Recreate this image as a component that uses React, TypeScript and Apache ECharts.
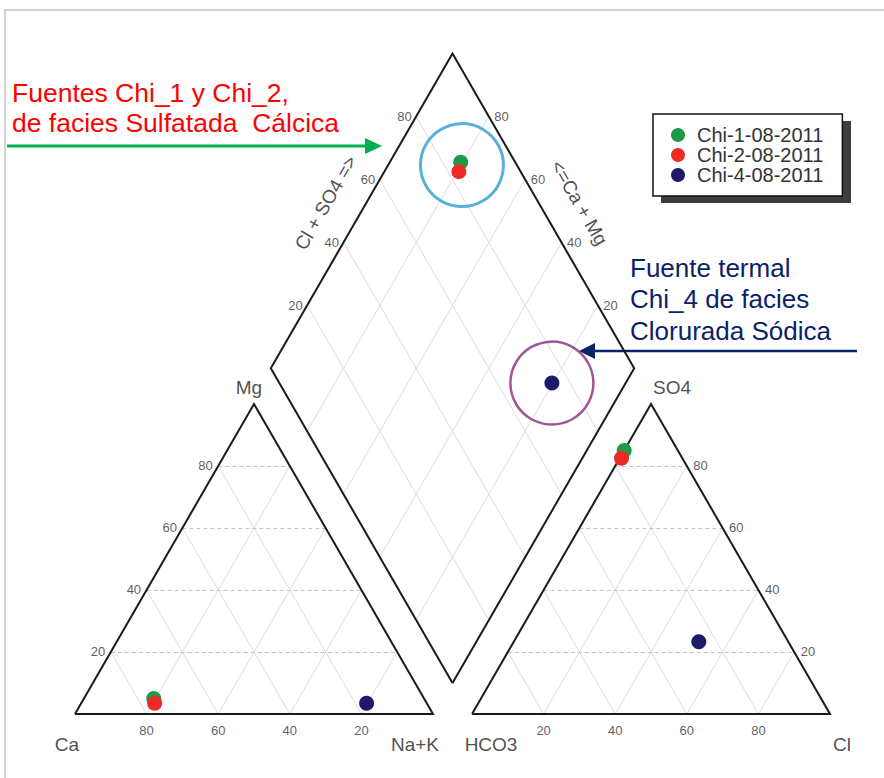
import React, { useEffect, useRef } from "react";
import * as echarts from "echarts";

// ---------- data (percent meq/L) ----------
const sampleNames = ["Chi-1-08-2011", "Chi-2-08-2011", "Chi-4-08-2011"];
const sampleColors = ["#1f9a4b", "#ec2b24", "#1d1a6b"];
const cationCa = [75.5, 76, 16.8];
const cationMg = [5, 3.5, 3.5];
const cationNaK = [19.5, 20.5, 79.7];
const anionHCO3 = [15, 17, 25];
const anionSO4 = [85, 82.5, 23.3];
const anionCl = [0, 0.5, 51.7];
const tickValues = [20, 40, 60, 80];

// ---------- geometry ----------
const H = Math.sqrt(3) / 2;
const GAP = 0.109;
const DW = 0.5075;
const DH = DW * Math.sqrt(3);
const B0 = 1 + GAP / 2;
const B1 = 0.0866;
const PX = 358;
const XMAX = 2.2;
const YMAX = 1.95;
const FONT = '"Liberation Sans", Arial, sans-serif';

function catXY(ca: number, mg: number, na: number): number[] {
  const s = ca + mg + na;
  return [(na + mg / 2) / s, (mg / s) * H];
}
function anXY(h: number, so4: number, cl: number): number[] {
  const s = h + so4 + cl;
  return [1 + GAP + (cl + so4 / 2) / s, (so4 / s) * H];
}
function diaXY(a: number, b: number): number[] {
  return [B0 + DW * (b - a), B1 + DH * (a + b)];
}

function seg(p: number[], q: number[]) {
  return { coords: [p, q] };
}

function buildOption() {
  const grid: any[] = [];
  const gridH: any[] = [];
  tickValues.forEach((v) => {
    const w = 100 - v;
    gridH.push(seg(catXY(w, v, 0), catXY(0, v, w)));
    grid.push(seg(catXY(v, w, 0), catXY(v, 0, w)));
    grid.push(seg(catXY(w, 0, v), catXY(0, w, v)));
    gridH.push(seg(anXY(w, v, 0), anXY(0, v, w)));
    grid.push(seg(anXY(v, w, 0), anXY(v, 0, w)));
    grid.push(seg(anXY(w, 0, v), anXY(0, w, v)));
    grid.push(seg(diaXY(v / 100, 0), diaXY(v / 100, 1)));
    grid.push(seg(diaXY(0, v / 100), diaXY(1, v / 100)));
  });

  const outlines = [
    { coords: [catXY(100, 0, 0), catXY(0, 0, 100), catXY(0, 100, 0), catXY(100, 0, 0)] },
    { coords: [anXY(100, 0, 0), anXY(0, 0, 100), anXY(0, 100, 0), anXY(100, 0, 0)] },
    { coords: [diaXY(0, 0), diaXY(1, 0), diaXY(1, 1), diaXY(0, 1), diaXY(0, 0)] },
  ];

  const tickSeries = (name: string, pts: any[], position: string, distance: number) => ({
    type: "scatter",
    name,
    silent: true,
    symbolSize: 1,
    itemStyle: { color: "transparent" },
    z: 6,
    data: pts,
    label: {
      show: true,
      position,
      distance,
      formatter: (p: any) => p.value[2],
      color: "#333333",
      fontSize: 13,
      fontFamily: FONT,
    },
  });

  const tk = (xy: number[], t: string) => ({ value: [xy[0], xy[1], t] });

  const corner = (xy: number[], t: string, off: number[]) => ({
    value: [xy[0], xy[1], t],
    label: { offset: off },
  });

  const nrm = 0.098;
  const tL = diaXY(1, 0.47);
  const tR = diaXY(0.47, 1);

  const samplePts = sampleNames.map((_, i) => {
    const a = (cationCa[i] + cationMg[i]) / (cationCa[i] + cationMg[i] + cationNaK[i]);
    const b = (anionSO4[i] + anionCl[i]) / (anionHCO3[i] + anionSO4[i] + anionCl[i]);
    return [
      catXY(cationCa[i], cationMg[i], cationNaK[i]),
      anXY(anionHCO3[i], anionSO4[i], anionCl[i]),
      diaXY(a, b),
    ];
  });
  const ring1 = [
    (samplePts[0][2][0] + samplePts[1][2][0]) / 2 + 0.006,
    (samplePts[0][2][1] + samplePts[1][2][1]) / 2 + 0.005,
  ];
  const ring2 = samplePts[2][2];

  const series: any[] = [
    {
      type: "lines",
      coordinateSystem: "cartesian2d",
      silent: true,
      z: 1,
      data: grid,
      lineStyle: { color: "#dcdcdc", width: 1, opacity: 1 },
    },
    {
      type: "lines",
      coordinateSystem: "cartesian2d",
      silent: true,
      z: 1,
      data: gridH,
      lineStyle: { color: "#c4c4c4", width: 1, type: [4, 3], opacity: 1 },
    },
    {
      type: "lines",
      coordinateSystem: "cartesian2d",
      polyline: true,
      silent: true,
      z: 2,
      data: outlines,
      lineStyle: { color: "#1a1a1a", width: 2, opacity: 1, join: "miter" },
    },
    tickSeries("tCa", tickValues.map((v) => tk(catXY(v, 0, 100 - v), String(v))), "bottom", 9),
    tickSeries("tMg", tickValues.map((v) => tk(catXY(100 - v, v, 0), String(v))), "left", 5),
    tickSeries("tCl", tickValues.map((v) => tk(anXY(100 - v, 0, v), String(v))), "bottom", 9),
    tickSeries("tSO4", tickValues.map((v) => tk(anXY(0, v, 100 - v), String(v))), "right", 6),
    tickSeries("tDL", tickValues.map((v) => tk(diaXY(1, v / 100), String(v))), "left", 4),
    tickSeries("tDR", tickValues.map((v) => tk(diaXY(v / 100, 1), String(v))), "right", 5),
    {
      type: "scatter",
      silent: true,
      symbolSize: 1,
      itemStyle: { color: "transparent" },
      z: 6,
      data: [
        corner(catXY(0, 100, 0), "Mg", [-5, -16]),
        corner(anXY(0, 100, 0), "SO4", [21, -16]),
        corner(catXY(100, 0, 0), "Ca", [-8, 30]),
        corner(catXY(0, 0, 100), "Na+K", [-18, 30]),
        corner(anXY(100, 0, 0), "HCO3", [19, 30]),
        corner(anXY(0, 0, 100), "Cl", [12, 30]),
      ],
      label: {
        show: true,
        position: "inside",
        formatter: (p: any) => p.value[2],
        color: "#222222",
        fontSize: 19,
        fontFamily: FONT,
      },
    },
    {
      type: "scatter",
      silent: true,
      symbolSize: 1,
      itemStyle: { color: "transparent" },
      z: 6,
      data: [
        {
          value: [tL[0] - 0.866 * nrm, tL[1] + 0.5 * nrm, "Cl + SO4 =>"],
          label: { rotate: 60 },
        },
        {
          value: [tR[0] + 0.866 * nrm, tR[1] + 0.5 * nrm, "<=Ca + Mg"],
          label: { rotate: -60 },
        },
      ],
      label: {
        show: true,
        position: "inside",
        formatter: (p: any) => p.value[2],
        color: "#222222",
        fontSize: 19,
        fontFamily: FONT,
      },
    },
    {
      type: "scatter",
      silent: true,
      symbolSize: 83,
      z: 4,
      data: [{ value: ring1 }],
      itemStyle: { color: "rgba(0,0,0,0)", borderColor: "#2f9ccf", borderWidth: 3 },
    },
    {
      type: "scatter",
      silent: true,
      symbolSize: 83,
      z: 4,
      data: [{ value: ring2 }],
      itemStyle: { color: "rgba(0,0,0,0)", borderColor: "#8a2c80", borderWidth: 2.5 },
    },
  ];

  sampleNames.forEach((name, i) => {
    series.push({
      type: "scatter",
      name,
      symbol: "circle",
      symbolSize: 15,
      z: 10 + i,
      itemStyle: { color: sampleColors[i], opacity: 1 },
      data: samplePts[i],
    });
  });

  const red = "#ff0000";
  const navy = "#0a2368";
  const green = "#00b050";

  const graphic: any[] = [
    {
      type: "rect",
      shape: { x: 5, y: 10, width: 900, height: 800 },
      style: { fill: "none", stroke: "#d4d4d4", lineWidth: 2 },
      silent: true,
      z: -10,
    },
    {
      type: "rect",
      shape: { x: 661, y: 121, width: 190, height: 82 },
      style: { fill: "#3d3d3d" },
      silent: true,
      z: 0,
    },
    {
      type: "text",
      x: 12,
      y: 93,
      style: { text: "Fuentes Chi_1 y Chi_2,", fill: red, fontSize: 26.5, fontFamily: FONT, verticalAlign: "middle" },
    },
    {
      type: "text",
      x: 12,
      y: 123,
      style: { text: "de facies Sulfatada  Cálcica", fill: red, fontSize: 26.5, fontFamily: FONT, verticalAlign: "middle" },
    },
    {
      type: "polyline",
      shape: { points: [[7, 146], [368, 146]] },
      style: { stroke: green, lineWidth: 3, fill: "none" },
    },
    {
      type: "polygon",
      shape: { points: [[365, 138], [382, 146], [365, 154]] },
      style: { fill: green },
    },
    {
      type: "text",
      x: 630,
      y: 268,
      style: { text: "Fuente termal", fill: navy, fontSize: 26, fontFamily: FONT, verticalAlign: "middle" },
    },
    {
      type: "text",
      x: 630,
      y: 299,
      style: { text: "Chi_4 de facies", fill: navy, fontSize: 26, fontFamily: FONT, verticalAlign: "middle" },
    },
    {
      type: "text",
      x: 630,
      y: 331,
      style: { text: "Clorurada Sódica", fill: navy, fontSize: 26, fontFamily: FONT, verticalAlign: "middle" },
    },
    {
      type: "polyline",
      shape: { points: [[857, 351], [592, 351]] },
      style: { stroke: navy, lineWidth: 2.5, fill: "none" },
    },
    {
      type: "polygon",
      shape: { points: [[595, 343], [579, 351], [595, 359]] },
      style: { fill: navy },
    },
  ];

  return {
    animation: false,
    backgroundColor: "#ffffff",
    grid: {
      left: 75,
      top: 714 - YMAX * PX,
      width: XMAX * PX,
      height: YMAX * PX,
      containLabel: false,
    },
    xAxis: { type: "value", min: 0, max: XMAX, show: false },
    yAxis: { type: "value", min: 0, max: YMAX, show: false },
    legend: {
      data: sampleNames,
      orient: "vertical",
      left: 653,
      top: 114,
      padding: [11, 19, 11, 18],
      itemGap: 0,
      itemWidth: 28,
      itemHeight: 14,
      icon: "circle",
      backgroundColor: "#ffffff",
      borderColor: "#111111",
      borderWidth: 1.5,
      borderRadius: 0,
      selectedMode: false,
      textStyle: { fontSize: 20, color: "#333333", fontFamily: FONT },
      z: 5,
    },
    graphic,
    series,
  };
}

export default function App() {
  const ref = useRef<HTMLDivElement>(null);
  useEffect(() => {
    if (!ref.current) return;
    const chart = echarts.init(ref.current, undefined, { renderer: "svg" });
    chart.setOption(buildOption() as any);
    return () => {
      chart.dispose();
    };
  }, []);
  return (
    <div
      ref={ref}
      style={{ position: "fixed", left: 0, top: 0, width: 884, height: 778, background: "#fff" }}
    />
  );
}
